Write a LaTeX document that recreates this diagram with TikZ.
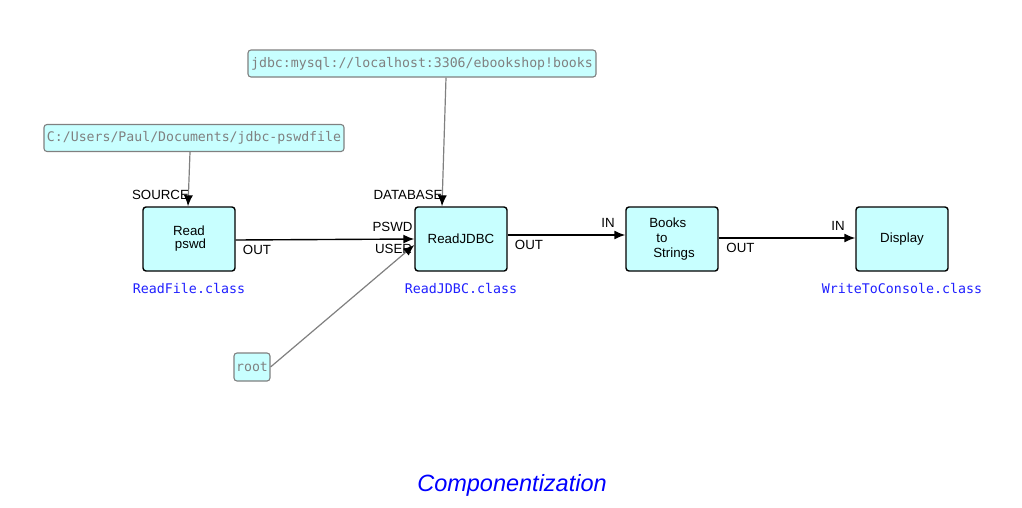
\documentclass[tikz,border=0pt]{standalone}
\usepackage{fontspec}
\setmainfont{Liberation Sans}
\newfontfamily\monofont{DejaVu Sans Mono}
\usetikzlibrary{arrows.meta}
\definecolor{boxfill}{RGB}{200,255,255}
\definecolor{srcgray}{RGB}{128,128,128}
\definecolor{classblue}{RGB}{32,32,255}
\tikzset{
  x=1pt, y=-1pt,
  procbox/.style={draw=black, line width=1.4pt, fill=boxfill, rounded corners=3pt,
    minimum width=92pt, minimum height=64pt, inner sep=0pt,
    font=\fontsize{13.3}{14}\selectfont},
  srcbox/.style={draw=srcgray, line width=1.1pt, fill=boxfill, rounded corners=3pt,
    minimum height=27pt, inner sep=0pt, text=srcgray,
    font=\monofont\fontsize{13.2}{14}\selectfont},
  portlbl/.style={inner sep=0pt, font=\fontsize{13.3}{14}\selectfont},
  classlbl/.style={inner sep=0pt, text=classblue, font=\monofont\fontsize{13.3}{14}\selectfont},
  flow/.style={draw=black, line width=1.4pt, -{Latex[length=11pt,width=9pt]}},
  feed/.style={draw=srcgray, line width=1.2pt, -{Latex[length=11pt,width=9pt,color=black]}},
}
\begin{document}
\begin{tikzpicture}
\useasboundingbox[fill=white] (0,0) rectangle (1022,507);

% process components
\node[procbox, align=center] (readp) at (189,239) {Read\\[-1pt]\hspace*{3pt}pswd};
\node[procbox] (rjdbc) at (461,239) {ReadJDBC};
\node[procbox, align=left, font=\fontsize{13.3}{15}\selectfont] (books) at (672,239)
  {Books\\\hspace*{7pt}to\\\hspace*{4pt}Strings};
\node[procbox] (display) at (902,239) {Display};

% initial information packets
\node[srcbox, minimum width=348pt] (url) at (422,63.5) {jdbc:mysql://localhost:3306/ebookshop!books};
\node[srcbox, minimum width=300pt] (path) at (194,138) {C:/Users/Paul/Documents/jdbc-pswdfile};
\node[srcbox, minimum width=36pt, minimum height=28pt] (root) at (252,367) {root};

% connections
\draw[feed] ([xshift=-4pt]path.south) -- ([xshift=-1pt]readp.north);
\draw[feed] ([xshift=24pt]url.south) -- ([xshift=-19pt]rjdbc.north);
\draw[feed] (root.east) -- ([yshift=-6pt]rjdbc.west);
\draw[flow] ([yshift=-1pt]readp.east) -- (rjdbc.west);
\draw[flow] ([yshift=4pt]rjdbc.east) -- ([yshift=4pt]books.west);
\draw[flow] ([yshift=1pt]books.east) -- ([yshift=1pt]display.west);

% port names
\node[portlbl] (psource) at (160.5,195) {SOURCE};
\node[portlbl] (pdb) at (408,195) {DATABASE};
\node[portlbl] (ppswd) at (392.5,227) {PSWD};
\node[portlbl] (puser) at (393.5,249) {USER};
\node[portlbl] (pout1) at (257,250) {OUT};
\node[portlbl] (pout2) at (529,245) {OUT};
\node[portlbl] (pin1) at (608,223) {IN};
\node[portlbl] (pout3) at (740.5,248) {OUT};
\node[portlbl] (pin2) at (838,226) {IN};

% component classes
\node[classlbl] (c1) at (189,288) {ReadFile.class};
\node[classlbl] (c2) at (461,288) {ReadJDBC.class};
\node[classlbl] (c3) at (902,288) {WriteToConsole.class};

% title
\node[inner sep=0pt, text=blue, font=\itshape\fontsize{23.5}{26}\selectfont] (title) at (512,485) {Componentization};
\end{tikzpicture}
\end{document}
